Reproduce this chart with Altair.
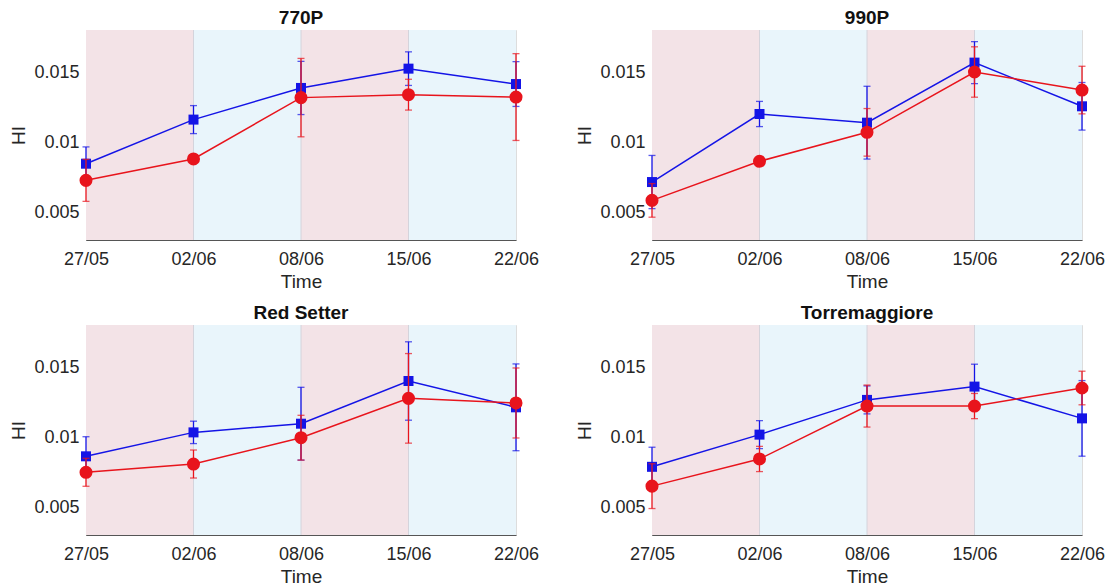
import altair as alt
import pandas as pd

DATES = ["27/05", "02/06", "08/06", "15/06", "22/06"]
PANELS = ["770P", "990P", "Red Setter", "Torremaggiore"]

BLUE_MEAN = {
    "770P": [0.00845, 0.0116, 0.01386, 0.01524, 0.01414],
    "990P": [0.00714, 0.0120, 0.01138, 0.01567, 0.01255],
    "Red Setter": [0.00862, 0.01033, 0.01095, 0.0140, 0.01212],
    "Torremaggiore": [0.00787, 0.01017, 0.01265, 0.0136, 0.01133],
}
BLUE_ERR = {
    "770P": [0.0012, 0.0010, 0.0019, 0.0012, 0.0016],
    "990P": [0.0019, 0.0009, 0.0026, 0.0015, 0.0017],
    "Red Setter": [0.0014, 0.0008, 0.0026, 0.0028, 0.0031],
    "Torremaggiore": [0.0014, 0.0010, 0.0010, 0.0016, 0.0027],
}
RED_MEAN = {
    "770P": [0.00726, 0.00879, 0.01317, 0.01338, 0.01321],
    "990P": [0.00583, 0.00862, 0.01069, 0.0150, 0.01371],
    "Red Setter": [0.00748, 0.00807, 0.00995, 0.01276, 0.01243],
    "Torremaggiore": [0.00649, 0.00843, 0.01221, 0.01221, 0.0135],
}
RED_ERR = {
    "770P": [0.0015, 0.0002, 0.0028, 0.0011, 0.0031],
    "990P": [0.0012, 0.0003, 0.0017, 0.0018, 0.0017],
    "Red Setter": [0.0010, 0.0010, 0.0016, 0.0032, 0.0025],
    "Torremaggiore": [0.0016, 0.0009, 0.0015, 0.0009, 0.0012],
}

SHADE_START = [0, 1, 2, 3]
SHADE_END = [1, 2, 3, 4]
SHADE_COLOR = ["#f3e3e7", "#e9f5fb", "#f3e3e7", "#e9f5fb"]
BOUNDARIES = [1, 2, 3]
Y_DOMAIN = [0.003, 0.018]
Y_TICKS = [0.005, 0.01, 0.015]

BLUE = "#1414e6"
RED = "#e8141c"
FONT = "Liberation Sans"

bg_df = pd.DataFrame({"x0": SHADE_START, "x1": SHADE_END, "c": SHADE_COLOR,
                      "y0": [Y_DOMAIN[0]] * 4, "y1": [Y_DOMAIN[1]] * 4})
bd_df = pd.DataFrame({"x": BOUNDARIES})

label_expr = "[" + ",".join(f"'{d}'" for d in DATES) + "][datum.value]"

x_scale = alt.Scale(domain=[0, 4], nice=False, zero=False)
y_scale = alt.Scale(domain=Y_DOMAIN, nice=False, zero=False)

x_axis = alt.Axis(title="Time", values=[0, 1, 2, 3, 4], labelExpr=label_expr,
                  grid=False, ticks=False, tickSize=0, labelPadding=10,
                  titlePadding=4, labelFontSize=18, titleFontSize=19,
                  labelFont=FONT, titleFont=FONT, labelColor="#262626",
                  titleColor="#262626", titleFontWeight="normal",
                  domainColor="#555555", labelFlush=False)
y_axis = alt.Axis(title="HI", values=Y_TICKS, format=".3~f", grid=False,
                  ticks=False, tickSize=0, labelPadding=7, titlePadding=5,
                  labelFontSize=18, titleFontSize=19, labelFont=FONT,
                  titleFont=FONT, labelColor="#262626", titleColor="#262626",
                  titleFontWeight="normal", domainColor="#555555")


def panel(name):
    df = pd.DataFrame({
        "idx": list(range(5)) * 2,
        "mean": BLUE_MEAN[name] + RED_MEAN[name],
        "err": BLUE_ERR[name] + RED_ERR[name],
        "series": ["blue"] * 5 + ["red"] * 5,
    })
    df["lo"] = df["mean"] - df["err"]
    df["hi"] = df["mean"] + df["err"]

    bg = alt.Chart(bg_df).mark_rect().encode(
        x=alt.X("x0:Q", scale=x_scale, axis=x_axis),
        x2="x1:Q",
        y=alt.Y("y0:Q", scale=y_scale, axis=y_axis),
        y2="y1:Q",
        color=alt.Color("c:N", scale=None),
    )
    bd = alt.Chart(bd_df).mark_rule(color="#d4d4dc", strokeWidth=1).encode(
        x=alt.X("x:Q", scale=x_scale),
    )

    layers = [bg, bd]
    for s, col, shape, size in [("blue", BLUE, "square", 100),
                                ("red", RED, "circle", 170)]:
        base = alt.Chart(df).transform_filter(alt.datum.series == s)
        rule = base.mark_rule(color=col, strokeWidth=1.3).encode(
            x=alt.X("idx:Q", scale=x_scale),
            y=alt.Y("lo:Q", scale=y_scale),
            y2="hi:Q",
        )
        cap_lo = base.mark_tick(color=col, orient="horizontal", size=7,
                                thickness=1.3).encode(
            x=alt.X("idx:Q", scale=x_scale),
            y=alt.Y("lo:Q", scale=y_scale),
        )
        cap_hi = base.mark_tick(color=col, orient="horizontal", size=7,
                                thickness=1.3).encode(
            x=alt.X("idx:Q", scale=x_scale),
            y=alt.Y("hi:Q", scale=y_scale),
        )
        line = base.mark_line(color=col, strokeWidth=1.5).encode(
            x=alt.X("idx:Q", scale=x_scale),
            y=alt.Y("mean:Q", scale=y_scale),
        )
        pts = base.mark_point(color=col, fill=col, filled=True, shape=shape,
                              size=size, opacity=1).encode(
            x=alt.X("idx:Q", scale=x_scale),
            y=alt.Y("mean:Q", scale=y_scale),
        )
        layers += [rule, cap_lo, cap_hi, line, pts]

    return alt.layer(*layers).properties(
        width=430, height=210,
        title=alt.TitleParams(name, fontSize=19, font=FONT, fontWeight="bold",
                              color="#111111", offset=2),
    )


chart = alt.concat(*[panel(p) for p in PANELS], columns=2, bounds="flush",
                   spacing={"row": 85, "column": 136}).properties(
    padding={"left": 1, "top": 0, "right": 0, "bottom": 0},
).configure_view(stroke=None).configure(background="white")

chart.save("out.html", embed_options={"renderer": "svg", "actions": False})
